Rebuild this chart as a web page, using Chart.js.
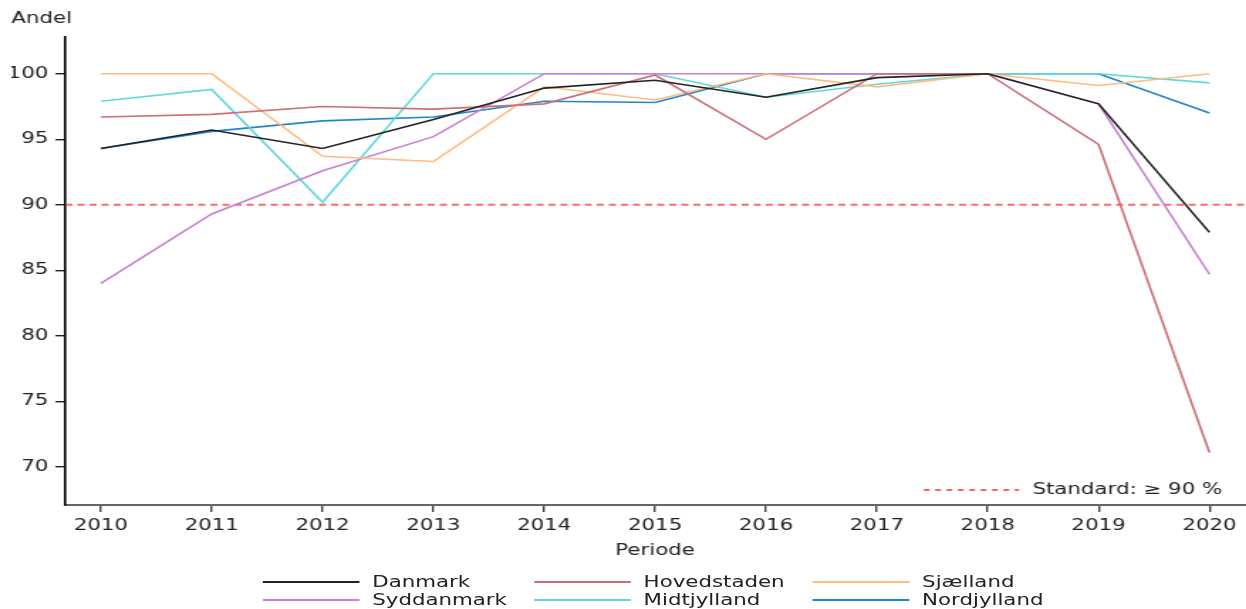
<!DOCTYPE html>
<html>
<head>
<meta charset="utf-8">
<title>Andel</title>
<script src="https://cdn.jsdelivr.net/npm/chart.js"></script>
<style>
    html, body { margin: 0; padding: 0; background: #fff; overflow: hidden; }
    /* reference is rendered wide: draw narrow, then stretch horizontally */
    #wrap { position: absolute; left: 0; top: 0; width: 877px; height: 609px; transform: scaleX(1.4208); transform-origin: 0 0; }
    #box { position: absolute; left: 0; top: 0; width: 877px; height: 560px; }
    #legend { position: absolute; left: 185px; top: 573px; display: grid; grid-template-columns: 191px 196px 200px;
              font-family: 'DejaVu Sans', sans-serif; font-size: 15px; color: #222; }
    .item { display: flex; align-items: center; height: 18px; line-height: 18px; white-space: nowrap; }
    .swatch { display: block; flex: none; width: 68px; height: 2px; margin-right: 9px; }
</style>
</head>
<body>
<div id="wrap">
    <div id="box"><canvas id="chart"></canvas></div>
    <div id="legend"></div>
</div>
<script>
// Periode
const years = [2010, 2011, 2012, 2013, 2014, 2015, 2016, 2017, 2018, 2019, 2020];
const yTicks = [70, 75, 80, 85, 90, 95, 100];
const standard = 90;

const names = ['Danmark', 'Hovedstaden', 'Sjælland', 'Syddanmark', 'Midtjylland', 'Nordjylland'];
const colors = ['#222222', '#cd6f78', '#ffbb80', '#c980d2', '#5fd8d8', '#1f86c8'];

// Andel (%)
const danmark     = [94.3, 95.7, 94.3, 96.5, 98.9, 99.5, 98.2, 99.7, 100, 97.7, 87.9];
const hovedstaden = [96.7, 96.9, 97.5, 97.3, 97.7, 99.9, 95.0, 100, 100, 94.6, 71.1];
const sjaelland   = [100, 100, 93.7, 93.3, 99.0, 98.0, 100, 99.0, 100, 99.1, 100];
const syddanmark  = [84.0, 89.3, 92.6, 95.2, 100, 100, 100, 100, 100, 97.7, 84.7];
const midtjylland = [97.9, 98.8, 90.2, 100, 100, 100, 98.2, 99.2, 100, 100, 99.3];
const nordjylland = [94.3, 95.6, 96.4, 96.7, 97.9, 97.8, 100, 100, 100, 100, 97.0];

const series = [danmark, hovedstaden, sjaelland, syddanmark, midtjylland, nordjylland];
const FONT = 'DejaVu Sans';

const datasets = series.map((vals, i) => ({
    label: names[i],
    data: vals.map((v, j) => ({ x: years[j], y: v })),
    borderColor: colors[i],
    backgroundColor: colors[i],
    borderWidth: 1.6,
    pointRadius: 0,
    fill: false,
    tension: 0
}));

// dashed standard line + its little legend inside the plot
const standardLine = {
    id: 'standardLine',
    beforeDatasetsDraw(chart) {
        const { ctx, chartArea, scales } = chart;
        const y = scales.y.getPixelForValue(standard);
        ctx.save();
        ctx.strokeStyle = 'rgba(255,40,40,0.7)';
        ctx.lineWidth = 2;
        ctx.setLineDash([5, 3.5]);
        ctx.beginPath();
        ctx.moveTo(chartArea.left, y);
        ctx.lineTo(chartArea.right, y);
        ctx.stroke();
        ctx.restore();
    },
    afterDatasetsDraw(chart) {
        const { ctx, chartArea } = chart;
        const y = chartArea.bottom - 15;
        ctx.save();
        ctx.strokeStyle = 'rgba(255,20,20,0.9)';
        ctx.lineWidth = 1.5;
        ctx.setLineDash([4, 4]);
        ctx.beginPath();
        ctx.moveTo(chartArea.right - 226, y);
        ctx.lineTo(chartArea.right - 159, y);
        ctx.stroke();
        ctx.setLineDash([]);
        ctx.fillStyle = '#222';
        ctx.font = '15px "' + FONT + '"';
        ctx.textAlign = 'left';
        ctx.textBaseline = 'middle';
        ctx.fillText('Standard: ≥ ' + standard + ' %', chartArea.right - 149.5, y);
        ctx.restore();
    }
};

const ctx = document.getElementById('chart').getContext('2d');
const chart = new Chart(ctx, {
    type: 'line',
    data: { datasets: datasets },
    options: {
        responsive: true,
        maintainAspectRatio: false,
        animation: false,
        layout: { padding: { left: 8, right: 0, top: 0, bottom: 0 } },
        plugins: {
            legend: { display: false },
            tooltip: { enabled: false },
            title: {
                display: true,
                text: 'Andel',
                align: 'start',
                color: '#222',
                font: { family: FONT, size: 15, weight: 'normal' },
                padding: { top: 10, bottom: 9 }
            }
        },
        scales: {
            x: {
                type: 'linear',
                min: 2009.68,
                max: 2020.32,
                afterBuildTicks: s => { s.ticks = years.map(v => ({ value: v })); },
                ticks: {
                    color: '#222',
                    font: { family: FONT, size: 15 },
                    padding: 5,
                    maxRotation: 0,
                    autoSkip: false,
                    callback: v => String(v)
                },
                grid: { drawOnChartArea: false, drawTicks: true, tickLength: 7, color: '#444', lineWidth: 1.4 },
                border: { display: true, color: '#666', width: 2 },
                title: {
                    display: true,
                    text: 'Periode',
                    color: '#222',
                    font: { family: FONT, size: 15 },
                    padding: { top: 2, bottom: 0 }
                }
            },
            y: {
                min: 67.1,
                max: 102.8,
                afterBuildTicks: s => { s.ticks = yTicks.map(v => ({ value: v })); },
                afterFit: s => { s.width = 38; },
                ticks: {
                    color: '#222',
                    font: { family: FONT, size: 15 },
                    padding: 5
                },
                grid: { drawOnChartArea: false, drawTicks: true, tickLength: 7, color: '#222', lineWidth: 1.4 },
                border: { display: true, color: '#000', width: 1.6 }
            }
        }
    },
    plugins: [standardLine]
});

// bottom legend, 3 columns
const legend = document.getElementById('legend');
names.forEach((n, i) => {
    const item = document.createElement('div');
    item.className = 'item';
    const sw = document.createElement('span');
    sw.className = 'swatch';
    sw.style.background = colors[i];
    const label = document.createElement('span');
    label.textContent = n;
    item.appendChild(sw);
    item.appendChild(label);
    legend.appendChild(item);
});
</script>
</body>
</html>
